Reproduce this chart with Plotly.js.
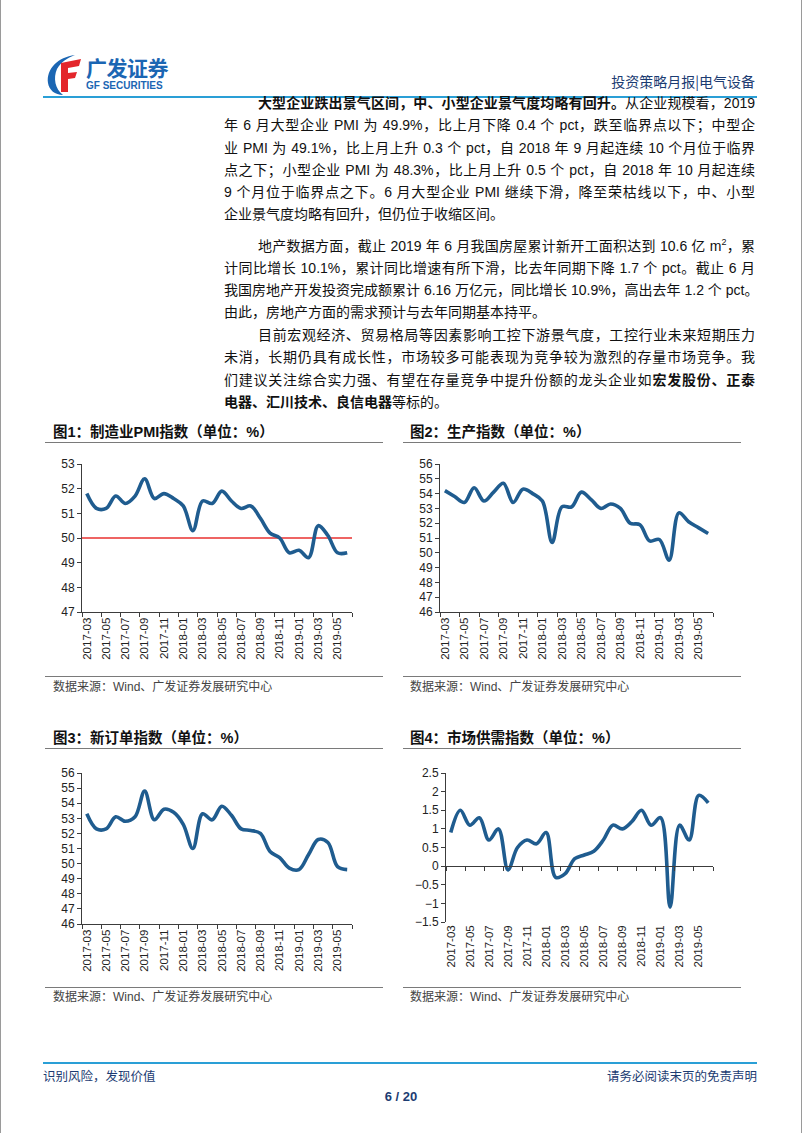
<!DOCTYPE html>
<html><head><meta charset="utf-8">
<script src="https://cdn.plot.ly/plotly-3.0.1.min.js"></script>
<style>
html,body{margin:0;padding:0;background:#fff;}
#page{position:relative;width:802px;height:1133px;overflow:hidden;background:#fff;
 font-family:"Liberation Sans Narrow","Liberation Sans","Noto Sans CJK SC",sans-serif;}
.vb{position:absolute;top:0;width:1px;height:1133px;background:#9a9a9a;}
.ln{position:absolute;left:224px;width:531px;height:22px;line-height:22px;font-size:14px;color:#111;
 text-align:justify;text-align-last:justify;white-space:nowrap;}
.ln.ind{left:258px;width:497px;}
.ln.last{text-align:left;text-align-last:left;}
.ln b{font-weight:bold;}
.ftitle{position:absolute;font-family:"Liberation Sans","Noto Sans CJK SC",sans-serif;font-size:14.5px;font-weight:bold;color:#111;line-height:16px;white-space:nowrap;}
.rule{position:absolute;height:1px;background:#7a7a7a;}
.src{position:absolute;font-family:"Liberation Sans","Noto Sans CJK SC",sans-serif;font-size:12px;color:#444;line-height:14px;white-space:nowrap;}
.chart{position:absolute;}
.navy{color:#1c3c72;}
</style></head>
<body>
<div id="page">
<div class="vb" style="left:0"></div>
<div class="vb" style="left:801px"></div>

<!-- header -->
<svg style="position:absolute;left:44px;top:54px" width="44" height="42" viewBox="0 0 44 42">
 <path d="M31,1 C14,3 2,15 4,29 C5,36 11,41 19,41 C11,35 9,24 13,15 C17,8 23,4 31,1 Z" fill="#1b66b3"/>
 <path d="M17,9 L37,5 L35,12 L24,14 L24,19 L33,18 L31,24 L24,25 L24,38 L17,38 Z" fill="#e3262b"/>
</svg>
<div style="position:absolute;left:86px;top:54px;font-family:'Noto Sans CJK SC',sans-serif;font-size:21px;font-weight:bold;color:#1b66b3;line-height:26px;letter-spacing:-0.5px;">广发证券</div>
<div style="position:absolute;left:86px;top:80px;font-family:'Liberation Sans',sans-serif;font-size:10px;font-weight:bold;color:#1b66b3;line-height:12px;">GF SECURITIES</div>
<div class="navy" style="position:absolute;right:47px;top:71px;font-family:'Noto Sans CJK SC',sans-serif;font-size:14px;line-height:20px;">投资策略月报|电气设备</div>
<div style="position:absolute;left:43px;top:96px;width:714px;height:2px;background:#2a9fd6;"></div>

<!-- body text -->
<div class="ln ind" style="top:92px"><b>大型企业跌出景气区间，中、小型企业景气度均略有回升。</b>从企业规模看，2019</div>
<div class="ln" style="top:114px">年 6 月大型企业 PMI 为 49.9%，比上月下降 0.4 个 pct，跌至临界点以下；中型企</div>
<div class="ln" style="top:137px">业 PMI 为 49.1%，比上月上升 0.3 个 pct，自 2018 年 9 月起连续 10 个月位于临界</div>
<div class="ln" style="top:159px">点之下；小型企业 PMI 为 48.3%，比上月上升 0.5 个 pct，自 2018 年 10 月起连续</div>
<div class="ln" style="top:181px">9 个月位于临界点之下。6 月大型企业 PMI 继续下滑，降至荣枯线以下，中、小型</div>
<div class="ln last" style="top:203px">企业景气度均略有回升，但仍位于收缩区间。</div>

<div class="ln ind" style="top:235px">地产数据方面，截止 2019 年 6 月我国房屋累计新开工面积达到 10.6 亿 m<sup style="font-size:9px;line-height:0">2</sup>，累</div>
<div class="ln" style="top:257px">计同比增长 10.1%，累计同比增速有所下滑，比去年同期下降 1.7 个 pct。截止 6 月</div>
<div class="ln" style="top:279px">我国房地产开发投资完成额累计 6.16 万亿元，同比增长 10.9%，高出去年 1.2 个 pct。</div>
<div class="ln last" style="top:301px">由此，房地产方面的需求预计与去年同期基本持平。</div>

<div class="ln ind" style="top:324px">目前宏观经济、贸易格局等因素影响工控下游景气度，工控行业未来短期压力</div>
<div class="ln" style="top:346px">未消，长期仍具有成长性，市场较多可能表现为竞争较为激烈的存量市场竞争。我</div>
<div class="ln" style="top:369px">们建议关注综合实力强、有望在存量竞争中提升份额的龙头企业如<b>宏发股份、正泰</b></div>
<div class="ln last" style="top:391px"><b>电器、汇川技术、良信电器</b>等标的。</div>

<!-- figure titles & rules -->
<div class="ftitle" style="left:53px;top:424px">图1：制造业PMI指数（单位：%）</div>
<div class="rule" style="left:45px;top:442px;width:338px"></div>
<div class="rule" style="left:45px;top:676px;width:338px"></div>
<div class="src" style="left:53px;top:680px">数据来源：Wind、广发证券发展研究中心</div>

<div class="ftitle" style="left:410px;top:424px">图2：生产指数（单位：%）</div>
<div class="rule" style="left:403px;top:442px;width:338px"></div>
<div class="rule" style="left:403px;top:676px;width:338px"></div>
<div class="src" style="left:410px;top:680px">数据来源：Wind、广发证券发展研究中心</div>

<div class="ftitle" style="left:53px;top:730px">图3：新订单指数（单位：%）</div>
<div class="rule" style="left:45px;top:748px;width:338px"></div>
<div class="rule" style="left:45px;top:987px;width:338px"></div>
<div class="src" style="left:53px;top:990px">数据来源：Wind、广发证券发展研究中心</div>

<div class="ftitle" style="left:410px;top:730px">图4：市场供需指数（单位：%）</div>
<div class="rule" style="left:403px;top:748px;width:338px"></div>
<div class="rule" style="left:403px;top:987px;width:338px"></div>
<div class="src" style="left:410px;top:990px">数据来源：Wind、广发证券发展研究中心</div>

<div id="c1" class="chart" style="left:40px;top:450px;width:322px;height:222px"></div>
<div id="c2" class="chart" style="left:400px;top:450px;width:325px;height:222px"></div>
<div id="c3" class="chart" style="left:40px;top:760px;width:322px;height:225px"></div>
<div id="c4" class="chart" style="left:400px;top:760px;width:325px;height:225px"></div>

<!-- footer -->
<div style="position:absolute;left:43px;top:1062px;width:714px;height:2px;background:#2a9fd6;"></div>
<div class="navy" style="position:absolute;left:43px;top:1068px;font-family:'Noto Sans CJK SC',sans-serif;font-size:12.5px;line-height:16px;">识别风险，发现价值</div>
<div class="navy" style="position:absolute;right:45px;top:1068px;font-family:'Noto Sans CJK SC',sans-serif;font-size:12.5px;line-height:16px;">请务必阅读末页的免责声明</div>
<div class="navy" style="position:absolute;left:0;width:802px;top:1089px;text-align:center;font-family:'Liberation Sans Narrow','Liberation Sans',sans-serif;font-size:13px;font-weight:bold;line-height:16px;">6 / 20</div>
</div>

<script>
// ---- data ----
const months = ['2017-03','2017-04','2017-05','2017-06','2017-07','2017-08','2017-09','2017-10','2017-11','2017-12',
 '2018-01','2018-02','2018-03','2018-04','2018-05','2018-06','2018-07','2018-08','2018-09','2018-10','2018-11','2018-12',
 '2019-01','2019-02','2019-03','2019-04','2019-05','2019-06'];
const pmi = [51.8,51.2,51.2,51.7,51.4,51.7,52.4,51.6,51.8,51.6,51.3,50.3,51.5,51.4,51.9,51.5,51.2,51.3,50.8,50.2,50.0,49.4,49.5,49.2,50.5,50.1,49.4,49.4];
const production = [54.2,53.8,53.4,54.4,53.5,54.1,54.7,53.4,54.3,54.0,53.5,50.7,53.1,53.1,54.1,53.6,53.0,53.3,53.0,52.0,51.9,50.8,50.9,49.5,52.7,52.1,51.7,51.3];
const newOrders = [53.3,52.3,52.3,53.1,52.8,53.1,54.8,52.9,53.6,53.4,52.6,51.0,53.3,52.9,53.8,53.2,52.3,52.2,52.0,50.8,50.4,49.7,49.6,50.6,51.6,51.4,49.8,49.6];
const supplyDemand = [0.9,1.5,1.1,1.3,0.7,1.0,-0.1,0.5,0.7,0.6,0.9,-0.3,-0.2,0.2,0.3,0.4,0.7,1.1,1.0,1.2,1.5,1.1,1.3,-1.1,1.1,0.7,1.9,1.7];
const pmiThreshold = 50;

const LINE = {color:'#1f5c8f', width:3.6, shape:'spline', smoothing:1};
const AX = '#3c3c3c';

function xAxis(extra){
  return Object.assign({type:'category', categoryorder:'array', categoryarray:months, range:[-0.5, months.length-0.5],
    tickmode:'linear', tick0:0, dtick:2, tickson:'boundaries', ticks:'outside', ticklen:4, tickwidth:1, tickcolor:AX,
    showline:true, linecolor:AX, linewidth:1, showgrid:false, zeroline:false, tickangle:-90,
    tickfont:{family:'Liberation Sans, Arial, sans-serif', size:11.5, color:'#222'}}, extra||{});
}
function yAxis(range, dtick, extra){
  return Object.assign({range:range, dtick:dtick, tick0:0, ticks:'outside', ticklen:4, tickwidth:1, tickcolor:AX,
    showline:true, linecolor:AX, linewidth:1, showgrid:false, zeroline:false,
    tickfont:{family:'Liberation Sans, Arial, sans-serif', size:12, color:'#222'}}, extra||{});
}
function layout(w,h,m,xa,ya,more){
  return Object.assign({width:w, height:h, margin:m, showlegend:false,
    paper_bgcolor:'rgba(0,0,0,0)', plot_bgcolor:'rgba(0,0,0,0)',
    font:{family:'Liberation Sans, Arial, sans-serif', size:11, color:'#222'},
    xaxis:xa, yaxis:ya}, more||{});
}
const cfg = {displayModeBar:false, staticPlot:true};

// Chart 1
Plotly.newPlot('c1', [
  {x:months, y:pmi, type:'scatter', mode:'lines', line:LINE, hoverinfo:'skip'}
], layout(322,222,{l:42,r:10,t:14,b:60}, xAxis(), yAxis([47,53],1), {
  shapes:[{type:'line', xref:'paper', x0:0, x1:1, yref:'y', y0:pmiThreshold, y1:pmiThreshold, line:{color:'#e8312f', width:1.6}, layer:'below'}]
}), cfg);

// Chart 2
Plotly.newPlot('c2', [
  {x:months, y:production, type:'scatter', mode:'lines', line:LINE, hoverinfo:'skip'}
], layout(325,222,{l:40,r:12,t:14,b:60}, xAxis(), yAxis([46,56],1)), cfg);

// Chart 3
Plotly.newPlot('c3', [
  {x:months, y:newOrders, type:'scatter', mode:'lines', line:LINE, hoverinfo:'skip'}
], layout(322,225,{l:42,r:10,t:13,b:61}, xAxis(), yAxis([46,56],1)), cfg);

// Chart 4: axis line with ticks at zero, labels at bottom
const y4 = [-1.5, 2.5];
Plotly.newPlot('c4', [
  {x:months, y:supplyDemand, type:'scatter', mode:'lines', line:LINE, hoverinfo:'skip'},
  {x:months, y:supplyDemand, type:'scatter', mode:'lines', line:{width:0, color:'rgba(0,0,0,0)'}, xaxis:'x2', hoverinfo:'skip'}
], layout(325,225,{l:46,r:12,t:13,b:63},
  xAxis({showline:false, ticks:''}),
  yAxis(y4,0.5),
  {xaxis2: xAxis({overlaying:'x', anchor:'free', position:(0-y4[0])/(y4[1]-y4[0]), showticklabels:false})}
), cfg);
</script>
</body></html>
